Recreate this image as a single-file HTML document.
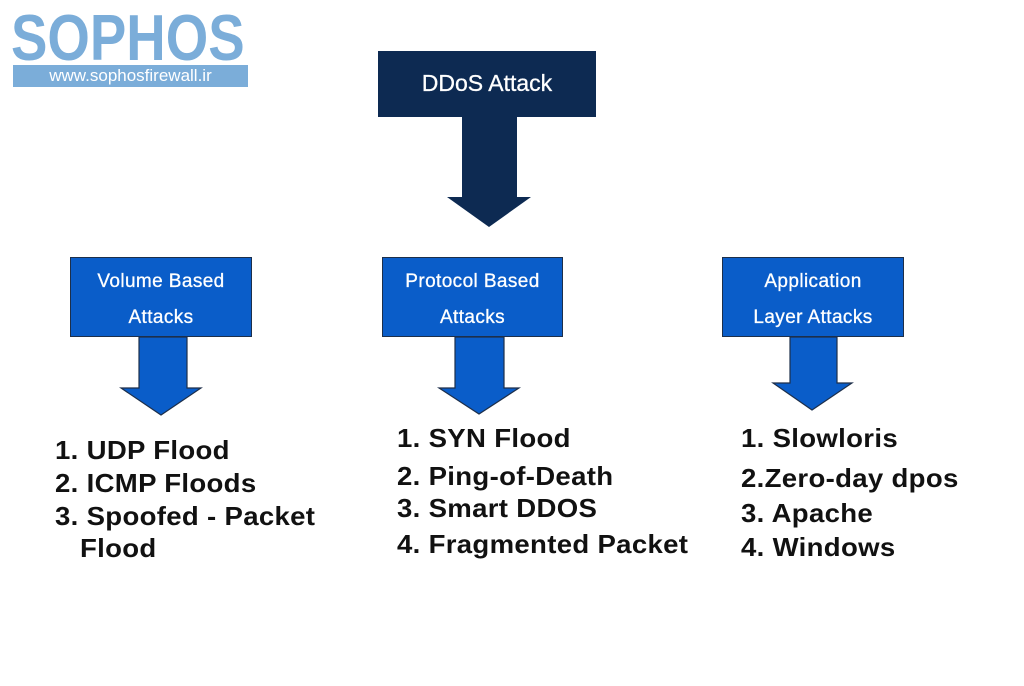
<!DOCTYPE html>
<html><head><style>
body{margin:0;width:1024px;height:686px;background:#fff;position:relative;overflow:hidden;font-family:"Liberation Sans",sans-serif}
.a{position:absolute}
.box{position:absolute;background:#0a5dc9;border:1.5px solid #1d2f4a;box-sizing:border-box;color:#fff;font-size:19px;text-align:center;line-height:36px;padding-top:6px;letter-spacing:0.4px;-webkit-text-stroke:0.3px #fff}
.li{position:absolute;font-weight:bold;font-size:26px;color:#111;white-space:nowrap;letter-spacing:0.3px;transform:scaleX(1.06);transform-origin:left}
</style></head><body>
<div class="a" style="left:11px;top:5px;font-size:65px;font-weight:bold;color:#7badd9;line-height:65px;transform:scaleX(0.84);transform-origin:left">SOPHOS</div>
<div class="a" style="left:13px;top:65px;width:235px;height:22px;background:#7badd9;color:#fff;font-size:17px;line-height:22px;text-align:center">www.sophosfirewall.ir</div>
<div class="a" style="left:378px;top:51px;width:218px;height:66px;background:#0d2a52;color:#fff;font-size:23px;line-height:64px;text-align:center;-webkit-text-stroke:0.3px #fff">DDoS Attack</div>
<svg class="a" style="left:0;top:0" width="1024" height="686">
<polygon points="462,117 517,117 517,197 531,197 489,227 447,197 462,197" fill="#0d2a52"/>
<g fill="#0a5dc9" stroke="#1d2f4a" stroke-width="1.2">
<polygon points="139,337 187,337 187,388 201,388 161,415 121,388 139,388"/>
<polygon points="455,337 504,337 504,388 519,388 479,414 439,388 455,388"/>
<polygon points="790,337 837,337 837,383 852,383 812,410 773,383 790,383"/>
</g>
</svg>
<div class="box" style="left:70px;top:257px;width:182px;height:80px">Volume Based<br>Attacks</div>
<div class="box" style="left:382px;top:257px;width:181px;height:80px">Protocol Based<br>Attacks</div>
<div class="box" style="left:722px;top:257px;width:182px;height:80px">Application<br>Layer Attacks</div>
<div class="li" style="left:55px;top:435px">1. UDP Flood</div>
<div class="li" style="left:55px;top:468px">2. ICMP Floods</div>
<div class="li" style="left:55px;top:501px">3. Spoofed - Packet</div>
<div class="li" style="left:80px;top:533px">Flood</div>
<div class="li" style="left:397px;top:423px">1. SYN Flood</div>
<div class="li" style="left:397px;top:461px">2. Ping-of-Death</div>
<div class="li" style="left:397px;top:493px">3. Smart DDOS</div>
<div class="li" style="left:397px;top:529px">4. Fragmented Packet</div>
<div class="li" style="left:741px;top:423px">1. Slowloris</div>
<div class="li" style="left:741px;top:463px">2.Zero-day dpos</div>
<div class="li" style="left:741px;top:498px">3. Apache</div>
<div class="li" style="left:741px;top:532px">4. Windows</div>
</body></html>
